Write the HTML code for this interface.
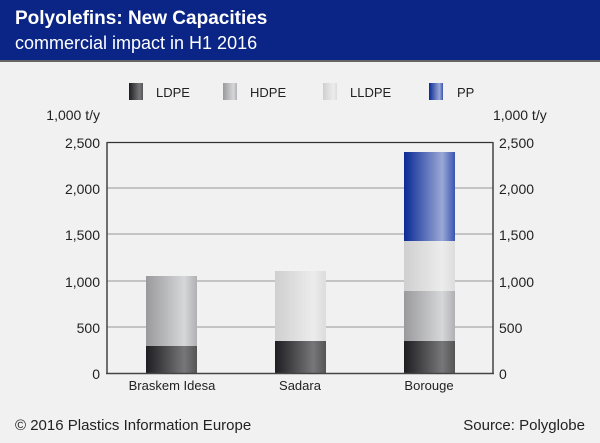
<!DOCTYPE html>
<html><head><style>body{margin:0;width:600px;height:443px;overflow:hidden;background:#f0f1f0}svg{display:block}text{font-family:"Liberation Sans",sans-serif}</style></head><body>
<svg width="600" height="443" viewBox="0 0 600 443">
<defs>
<linearGradient id="g1" x1="0" x2="1"><stop offset="0" stop-color="#1e1e22"/><stop offset="0.75" stop-color="#77777a"/><stop offset="1" stop-color="#555"/></linearGradient>
<linearGradient id="g2" x1="0" x2="1"><stop offset="0" stop-color="#9a9a9c"/><stop offset="0.75" stop-color="#d6d7d8"/><stop offset="1" stop-color="#b0b0b2"/></linearGradient>
<linearGradient id="g3" x1="0" x2="1"><stop offset="0" stop-color="#cfcfd0"/><stop offset="0.75" stop-color="#ececec"/><stop offset="1" stop-color="#dcdcdc"/></linearGradient>
<linearGradient id="g4" x1="0" x2="1"><stop offset="0" stop-color="#0a2a95"/><stop offset="0.75" stop-color="#9aa8d6"/><stop offset="1" stop-color="#3a55b0"/></linearGradient>
</defs>
<rect x="0" y="0" width="600" height="60" fill="#0a2585"/>
<rect x="0" y="60" width="600" height="2" fill="#666"/>
<text x="15" y="24" fill="#fff" font-size="19" font-weight="bold">Polyolefins: New Capacities</text>
<text x="15" y="49" fill="#fff" font-size="18">commercial impact in H1 2016</text>
<rect x="129" y="83" width="14" height="17" fill="url(#g1)"/><text x="156" y="97" font-size="13" fill="#222">LDPE</text>
<rect x="223" y="83" width="14" height="17" fill="url(#g2)"/><text x="250" y="97" font-size="13" fill="#222">HDPE</text>
<rect x="323" y="83" width="14" height="17" fill="url(#g3)"/><text x="350" y="97" font-size="13" fill="#222">LLDPE</text>
<rect x="429" y="83" width="14" height="17" fill="url(#g4)"/><text x="457" y="97" font-size="13" fill="#222">PP</text>
<text x="100" y="120" font-size="14" text-anchor="end" fill="#222">1,000 t/y</text>
<text x="493" y="120" font-size="14" text-anchor="start" fill="#222">1,000 t/y</text>
<g stroke="#aaa" stroke-width="1.2">
<line x1="107" x2="493" y1="188" y2="188"/><line x1="107" x2="493" y1="234" y2="234"/><line x1="107" x2="493" y1="281" y2="281"/><line x1="107" x2="493" y1="327" y2="327"/>
</g>
<line x1="107" x2="493" y1="142.5" y2="142.5" stroke="#333" stroke-width="1.2"/>
<g font-size="14" fill="#222">
<text x="100" y="148" text-anchor="end">2,500</text><text x="100" y="194" text-anchor="end">2,000</text><text x="100" y="240" text-anchor="end">1,500</text><text x="100" y="287" text-anchor="end">1,000</text><text x="100" y="333" text-anchor="end">500</text><text x="100" y="379" text-anchor="end">0</text>
<text x="499" y="148">2,500</text><text x="499" y="194">2,000</text><text x="499" y="240">1,500</text><text x="499" y="287">1,000</text><text x="499" y="333">500</text><text x="499" y="379">0</text>
</g>
<rect x="146" y="346" width="51" height="27" fill="url(#g1)"/>
<rect x="146" y="276" width="51" height="70" fill="url(#g2)"/>
<rect x="275" y="341" width="51" height="32" fill="url(#g1)"/>
<rect x="275" y="271" width="51" height="70" fill="url(#g3)"/>
<rect x="404" y="341" width="51" height="32" fill="url(#g1)"/>
<rect x="404" y="291" width="51" height="50" fill="url(#g2)"/>
<rect x="404" y="241" width="51" height="50" fill="url(#g3)"/>
<rect x="404" y="152" width="51" height="89" fill="url(#g4)"/>
<g stroke="#444" stroke-width="1.5">
<line x1="107" x2="107" y1="142" y2="374"/><line x1="493" x2="493" y1="142" y2="374"/><line x1="106" x2="494" y1="373.5" y2="373.5"/>
</g>
<g font-size="13" fill="#222" text-anchor="middle">
<text x="172" y="390">Braskem Idesa</text><text x="300" y="390">Sadara</text><text x="429" y="390">Borouge</text>
</g>
<text x="15" y="430" font-size="15" fill="#222">© 2016 Plastics Information Europe</text>
<text x="585" y="430" font-size="15" fill="#222" text-anchor="end">Source: Polyglobe</text>
</svg>
</body></html>
